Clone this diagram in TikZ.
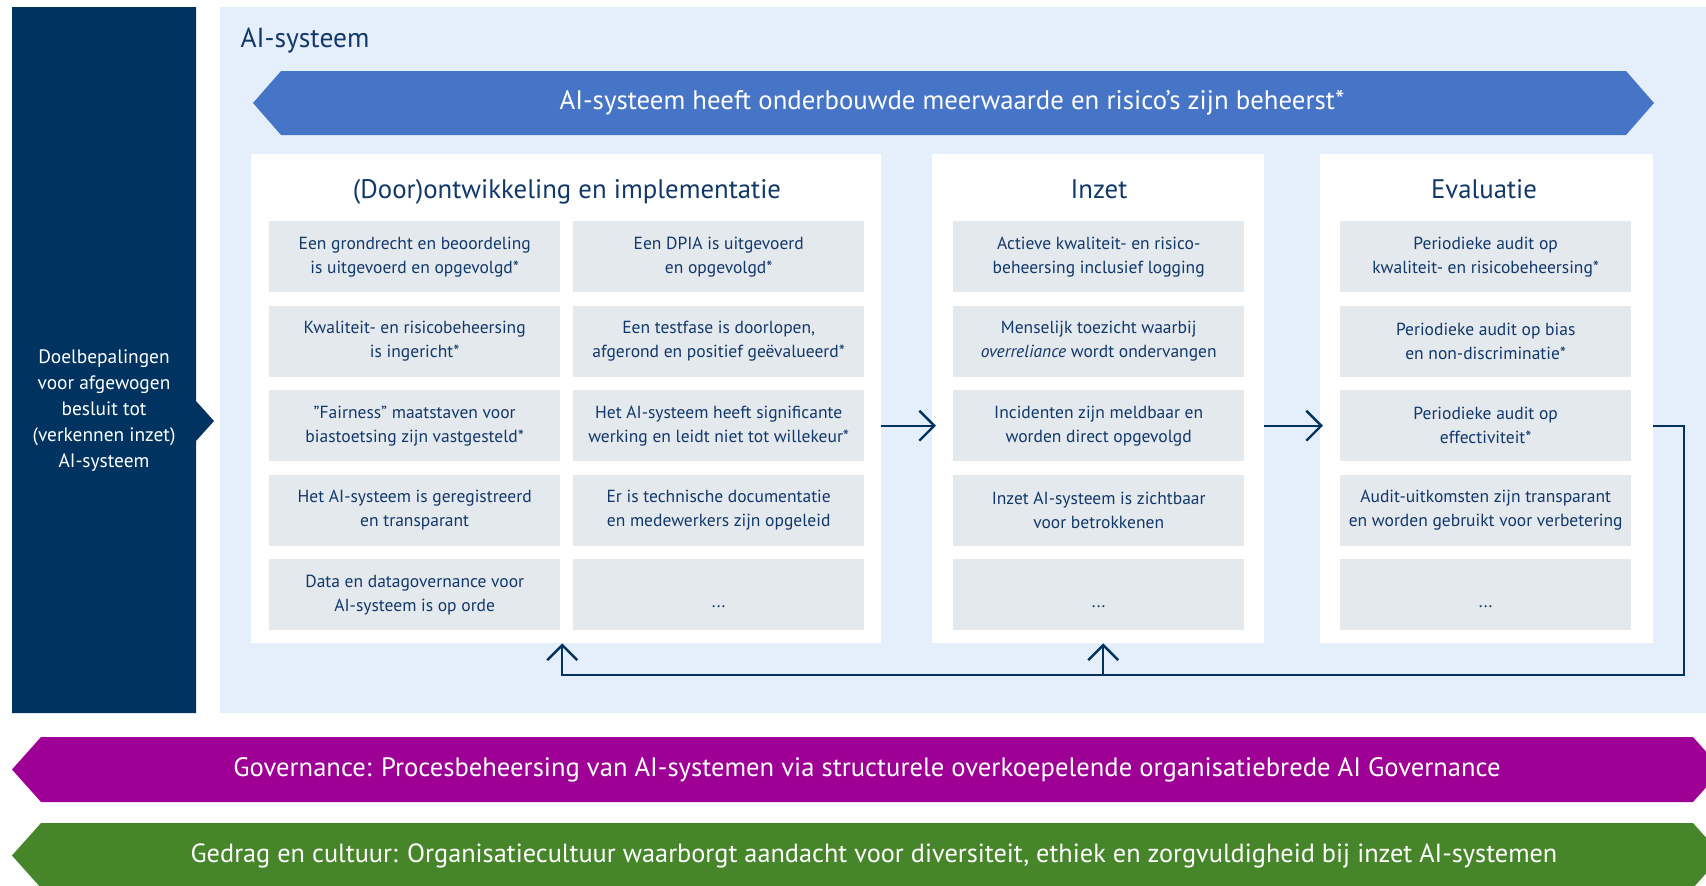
\documentclass[tikz,border=0pt]{standalone}
\usepackage{fontspec}
\setmainfont{PT Sans}
\usetikzlibrary{arrows.meta}
\definecolor{navy}{HTML}{003360}
\definecolor{panelblue}{HTML}{E5EFFC}
\definecolor{bannerblue}{HTML}{4674C6}
\definecolor{cellgray}{HTML}{E4E9EE}
\definecolor{txtnavy}{HTML}{12386A}
\definecolor{purp}{HTML}{9E0095}
\definecolor{grn}{HTML}{47852A}
\newcommand{\celldots}{\smash{\raisebox{-13pt}{...}}}
\begin{document}
\begin{tikzpicture}[x=1pt,y=-1pt,
  cellbox/.style={fill=cellgray, minimum width=291pt, minimum height=71pt, inner sep=0pt,
    align=center, text=txtnavy, font=\fontsize{17.5}{24}\selectfont, anchor=north west},
  colbox/.style={fill=white, inner sep=0pt, anchor=north west},
  header/.style={text=txtnavy, font=\fontsize{26.8}{30}\selectfont, anchor=base},
  bannertext/.style={text=white, font=\fontsize{26.8}{28}\selectfont},
  flowline/.style={draw=navy, line width=2.4pt},
  flowarrow/.style={flowline, -{Straight Barb[length=15pt,width=30pt]}}
]
\useasboundingbox (0,0) rectangle (1706,886);
\begin{scope}
\clip (0,0) rectangle (1706,886);
% left goal box
\fill[navy] (12,7) -- (196,7) -- (196,401) -- (214,421) -- (196,441) -- (196,713) -- (12,713) -- cycle;
\node[text=white, align=center, font=\fontsize{19.4}{26}\selectfont] (goal) at (104,411)
  {Doelbepalingen\\voor afgewogen\\besluit tot\\(verkennen inzet)\\AI-systeem};
% panel
\fill[panelblue] (220,7) rectangle (1710,713);
\node[anchor=west, text=txtnavy, font=\fontsize{27.5}{30}\selectfont] (title) at (237,41) {AI-systeem};
% blue banner
\fill[bannerblue] (253,103) -- (281,71) -- (1626,71) -- (1654,103) -- (1626,135) -- (281,135) -- cycle;
\node[bannertext] (ban) at (952,103) {AI-systeem heeft onderbouwde meerwaarde en risico’s zijn beheerst*};
% column boxes
\node[colbox, minimum width=630pt, minimum height=489pt] (b1) at (251,154) {};
\node[colbox, minimum width=332pt, minimum height=489pt] (b2) at (932,154) {};
\node[colbox, minimum width=333pt, minimum height=489pt] (b3) at (1320,154) {};
\node[header] (h1) at (567,198) {(Door)ontwikkeling en implementatie};
\node[header] (h2) at (1099,198) {Inzet};
\node[header] (h3) at (1484,198) {Evaluatie};
% cells column box 1
\node[cellbox] (a1) at (269,221) {Een grondrecht en beoordeling\\is uitgevoerd en opgevolgd*};
\node[cellbox] (a2) at (269,305.5) {Kwaliteit- en risicobeheersing\\is ingericht*};
\node[cellbox] (a3) at (269,390) {”Fairness” maatstaven voor\\biastoetsing zijn vastgesteld*};
\node[cellbox] (a4) at (269,474.5) {Het AI-systeem is geregistreerd\\en transparant};
\node[cellbox] (a5) at (269,559) {Data en datagovernance voor\\AI-systeem is op orde};
\node[cellbox] (c1) at (573,221) {Een DPIA is uitgevoerd\\en opgevolgd*};
\node[cellbox] (c2) at (573,305.5) {Een testfase is doorlopen,\\afgerond en positief geëvalueerd*};
\node[cellbox] (c3) at (573,390) {Het AI-systeem heeft significante\\werking en leidt niet tot willekeur*};
\node[cellbox] (c4) at (573,474.5) {Er is technische documentatie\\en medewerkers zijn opgeleid};
\node[cellbox] (c5) at (573,559) {\celldots};
% cells column box 2
\node[cellbox] (d1) at (953,221) {Actieve kwaliteit- en risico-\\beheersing inclusief logging};
\node[cellbox] (d2) at (953,305.5) {Menselijk toezicht waarbij\\\textit{overreliance} wordt ondervangen};
\node[cellbox] (d3) at (953,390) {Incidenten zijn meldbaar en\\worden direct opgevolgd};
\node[cellbox] (d4) at (953,474.5) {Inzet AI-systeem is zichtbaar\\voor betrokkenen};
\node[cellbox] (d5) at (953,559) {\celldots};
% cells column box 3
\node[cellbox] (e1) at (1340,221) {Periodieke audit op\\kwaliteit- en risicobeheersing*};
\node[cellbox] (e2) at (1340,305.5) {Periodieke audit op bias\\en non-discriminatie*};
\node[cellbox] (e3) at (1340,390) {Periodieke audit op\\effectiviteit*};
\node[cellbox] (e4) at (1340,474.5) {Audit-uitkomsten zijn transparant\\en worden gebruikt voor verbetering};
\node[cellbox] (e5) at (1340,559) {\celldots};
% flow arrows
\draw[flowarrow] (b1.east |- a3.east) -- ([xshift=4pt]b2.west |- a3.east);
\draw[flowarrow] (b2.east |- a3.east) -- ([xshift=3pt]b3.west |- a3.east);
% feedback loop
\coordinate (fbc) at (1684,675);
\draw[flowarrow] (b3.east |- e3.east) -| (fbc) -| ([xshift=-4pt]b1.south);
\draw[flowarrow] ([xshift=5pt]b2.south |- fbc) -- ([xshift=5pt]b2.south);
% governance banner
\fill[purp] (12,769.5) -- (41,737) -- (1693,737) -- (1722,769.5) -- (1693,802) -- (41,802) -- cycle;
\node[bannertext, font=\fontsize{26.6}{28}\selectfont] (gov) at (867,769.5)
  {Governance: Procesbeheersing van AI-systemen via structurele overkoepelende organisatiebrede AI Governance};
% culture banner
\fill[grn] (12,855.5) -- (41,823) -- (1693,823) -- (1722,855.5) -- (1693,888) -- (41,888) -- cycle;
\node[bannertext, font=\fontsize{26.3}{28}\selectfont] (cult) at (874,855.5)
  {Gedrag en cultuur: Organisatiecultuur waarborgt aandacht voor diversiteit, ethiek en zorgvuldigheid bij inzet AI-systemen};
\end{scope}
\end{tikzpicture}
\end{document}
